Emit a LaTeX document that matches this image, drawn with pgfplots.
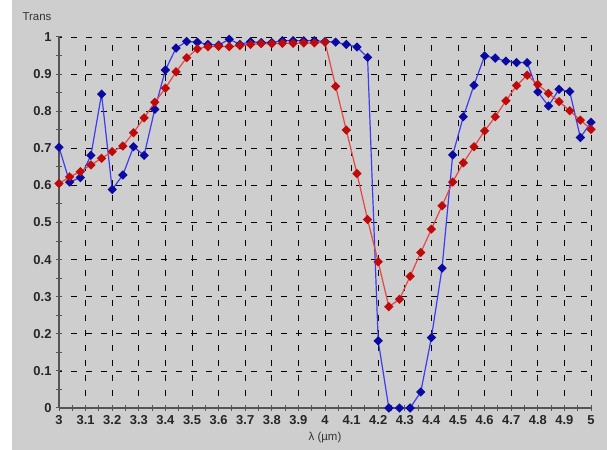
\documentclass[border=0pt]{standalone}
\usepackage{fontspec}
\setmainfont{Liberation Sans}
\usepackage{pgfplots}
\pgfplotsset{compat=1.18}
\usepackage{pgfplotstable}
\definecolor{bg}{RGB}{206,206,206}
\definecolor{axcol}{RGB}{85,85,85}
\definecolor{bline}{RGB}{60,60,240}
\definecolor{bmark}{RGB}{10,10,160}
\definecolor{rline}{RGB}{230,70,70}
\definecolor{rmark}{RGB}{190,10,10}
\pgfplotstableread{
x y
3.00 0.703
3.04 0.609
3.08 0.621
3.12 0.681
3.16 0.846
3.20 0.589
3.24 0.628
3.28 0.704
3.32 0.681
3.36 0.805
3.40 0.911
3.44 0.970
3.48 0.988
3.52 0.986
3.56 0.980
3.60 0.978
3.64 0.994
3.68 0.980
3.72 0.987
3.76 0.985
3.80 0.985
3.84 0.990
3.88 0.990
3.92 0.990
3.96 0.990
4.00 0.988
4.04 0.986
4.08 0.980
4.12 0.973
4.16 0.945
4.20 0.181
4.24 0.000
4.28 0.000
4.32 0.000
4.36 0.043
4.40 0.190
4.44 0.377
4.48 0.682
4.52 0.785
4.56 0.870
4.60 0.949
4.64 0.943
4.68 0.935
4.72 0.931
4.76 0.931
4.80 0.852
4.84 0.814
4.88 0.859
4.92 0.853
4.96 0.729
5.00 0.770
}\blue
\pgfplotstableread{
x y
3.00 0.605
3.04 0.623
3.08 0.637
3.12 0.655
3.16 0.673
3.20 0.691
3.24 0.706
3.28 0.742
3.32 0.782
3.36 0.824
3.40 0.862
3.44 0.906
3.48 0.944
3.52 0.968
3.56 0.974
3.60 0.975
3.64 0.974
3.68 0.977
3.72 0.980
3.76 0.982
3.80 0.982
3.84 0.983
3.88 0.983
3.92 0.984
3.96 0.984
4.00 0.986
4.04 0.867
4.08 0.749
4.12 0.632
4.16 0.508
4.20 0.394
4.24 0.273
4.28 0.293
4.32 0.355
4.36 0.419
4.40 0.482
4.44 0.545
4.48 0.609
4.52 0.661
4.56 0.704
4.60 0.747
4.64 0.785
4.68 0.828
4.72 0.869
4.76 0.897
4.80 0.872
4.84 0.848
4.88 0.826
4.92 0.801
4.96 0.776
5.00 0.751
}\red
\begin{document}
\begin{tikzpicture}[x=1bp,y=1bp]
\useasboundingbox (-59,-42) rectangle (548,408);
\fill[white] (-59,-42) rectangle (548,408);
\fill[bg] (-47,-42) rectangle (548,408);
\begin{axis}[
  at={(0,0)}, anchor=south west,
  scale only axis, width=532bp, height=371bp,
  xmin=3, xmax=5, ymin=0, ymax=1,
  xtick={3,3.1,...,5.01}, ytick={0,0.1,...,1.01},
  minor tick num=1,
  axis x line=bottom, axis y line=left,
  axis line style={-, axcol, line width=1.4pt},
  tick align=center,
  major tick length=6bp, minor tick length=6bp,
  tick style={axcol, line width=1pt},
  grid=major,
  major grid style={black, line width=0.7pt, dash pattern=on 6bp off 9bp, dash phase=3bp},
  /pgf/number format/assume math mode=true,
  ticklabel style={font=\fontsize{13}{15}\selectfont\bfseries, text=black!85},
  xticklabel style={yshift=-1bp},
  yticklabel style={xshift=-1bp},
  xlabel={λ (µm)},
  xlabel style={at={(rel axis cs:0.5,0)}, anchor=center, yshift=-30bp, font=\fontsize{11.5}{13}\selectfont, text=black!80},
  clip=false,
]
\addplot[bline, line width=1.2pt, mark=square*, mark size=2.7bp, mark options={fill=bmark, draw=bmark, solid, rotate=45}] table[x=x,y=y] {\blue};
\addplot[rline, line width=1.2pt, mark=square*, mark size=2.7bp, mark options={fill=rmark, draw=rmark, solid, rotate=45}] table[x=x,y=y] {\red};
\end{axis}
\node[anchor=west, font=\fontsize{11.5}{13}\selectfont, text=black!80] at (-40,391) {Trans};
\end{tikzpicture}
\end{document}
